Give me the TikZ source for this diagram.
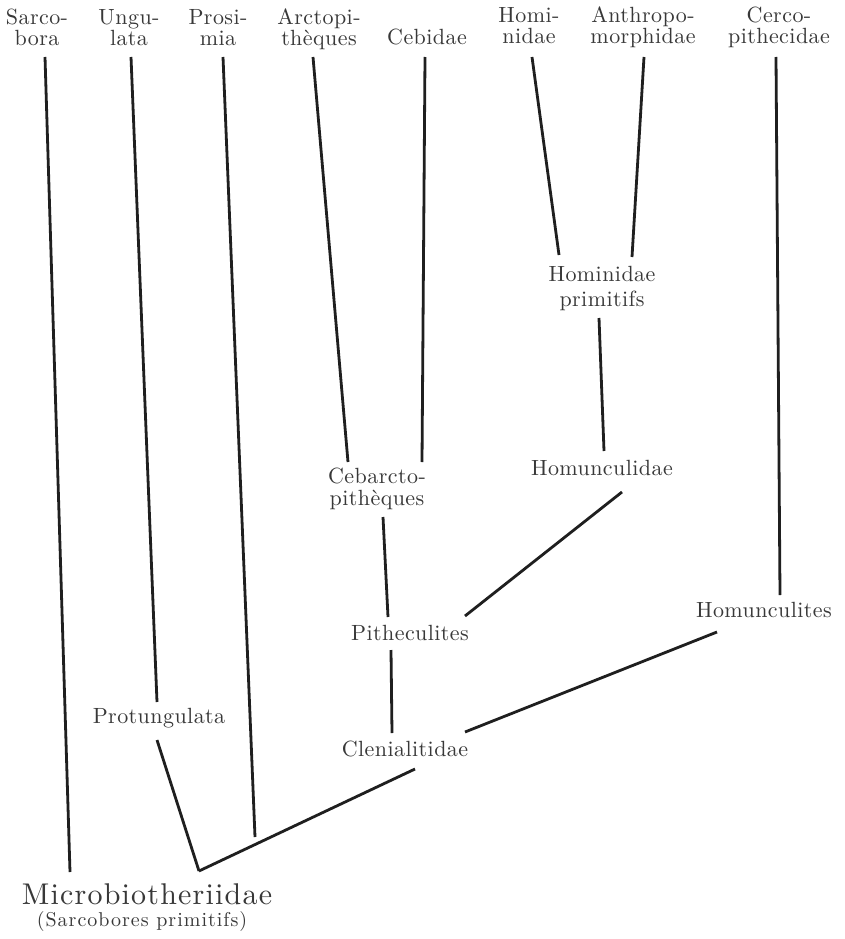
\documentclass[tikz,border=0pt]{standalone}
\usepackage{fontspec}
\newfontfamily\lblfont{lmroman10-regular.otf}[LetterSpace=2]
\newfontfamily\biglblfont{lmroman10-regular.otf}[LetterSpace=4]
\newfontfamily\sublblfont{lmroman10-regular.otf}[LetterSpace=5]
\newcommand\twoline[3][0pt]{\begin{tabular}[b]{@{}c@{}}#2\\[#1]#3\end{tabular}}
\tikzset{
  lbl/.style={inner sep=0pt, anchor=base, text=black!78,
    font=\lblfont\fontsize{22}{21}\selectfont},
  biglbl/.style={lbl, font=\biglblfont\fontsize{30}{30}\selectfont},
  sublbl/.style={lbl, font=\sublblfont\fontsize{20}{21}\selectfont},
  link/.style={line width=2.8pt, draw=black!88}
}
\begin{document}
\begin{tikzpicture}[x=1pt,y=-1pt]
\fill[white] (0,0) rectangle (845,939);
\useasboundingbox (0,0) rectangle (845,939);

% labels
\node[lbl] (sarc) at (37,46) {\twoline{Sarco-}{bora}};
\node[lbl] (ungu) at (129,46) {\twoline{Ungu-}{lata}};
\node[lbl] (pros) at (218,46) {\twoline{Prosi-}{mia}};
\node[lbl] (arct) at (319,46) {\twoline{Arctopi-}{thèques}};
\node[lbl] (cebi) at (427,45) {Cebidae};
\node[lbl] (homi) at (529,44) {\twoline{Homi-}{nidae}};
\node[lbl] (anth) at (643,44) {\twoline{Anthropo-}{morphidae}};
\node[lbl] (cerc) at (779,44) {\twoline{Cerco-}{pithecidae}};
\node[lbl] (homp) at (602,306) {\twoline[3pt]{Hominidae}{primitifs}};
\node[lbl] (homu) at (602,475) {Homunculidae};
\node[lbl] (ceba) at (377,505) {\twoline{Cebarcto-}{pithèques}};
\node[lbl] (pith) at (410,640) {Pitheculites};
\node[lbl] (hmcs) at (764,617) {Homunculites};
\node[lbl] (prot) at (159,723) {Protungulata};
\node[lbl] (clen) at (405,756) {Clenialitidae};
\node[biglbl] (micr) at (147,904) {Microbiotheriidae};
\node[sublbl] (sarp) at (142,926) {(Sarcobores primitifs)};

% connector end points
\coordinate (sarcT) at (45,57);   \coordinate (sarcB) at (70,872);
\coordinate (unguT) at (131,57);  \coordinate (unguB) at (157,702);
\coordinate (prosT) at (223,57);  \coordinate (prosB) at (255,837);
\coordinate (arctT) at (313,57);  \coordinate (arctB) at (348,462);
\coordinate (cebiT) at (425,57);  \coordinate (cebiB) at (422,462);
\coordinate (homiT) at (532,57);  \coordinate (homiB) at (559,255);
\coordinate (anthT) at (644,57);  \coordinate (anthB) at (632,257);
\coordinate (cercT) at (776,57);  \coordinate (cercB) at (780,595);
\coordinate (hompB) at (599,318); \coordinate (homuT) at (604,451);
\coordinate (homuB) at (622,492); \coordinate (pithR) at (465,616);
\coordinate (cebaB) at (383,517); \coordinate (pithT) at (388,617);
\coordinate (pithB) at (391,650); \coordinate (clenT) at (392,733);
\coordinate (clenR) at (465,732); \coordinate (hmcsB) at (717,632);
\coordinate (clenB) at (415,769); \coordinate (root) at (199,871);
\coordinate (protB) at (157,740);

% connectors
\draw[link] (sarcT) -- (sarcB);
\draw[link] (unguT) -- (unguB);
\draw[link] (prosT) -- (prosB);
\draw[link] (arctT) -- (arctB);
\draw[link] (cebiT) -- (cebiB);
\draw[link] (homiT) -- (homiB);
\draw[link] (anthT) -- (anthB);
\draw[link] (cercT) -- (cercB);
\draw[link] (hompB) -- (homuT);
\draw[link] (homuB) -- (pithR);
\draw[link] (cebaB) -- (pithT);
\draw[link] (pithB) -- (clenT);
\draw[link] (clenR) -- (hmcsB);
\draw[link] (clenB) -- (root);
\draw[link] (protB) -- (root);
\end{tikzpicture}
\end{document}
